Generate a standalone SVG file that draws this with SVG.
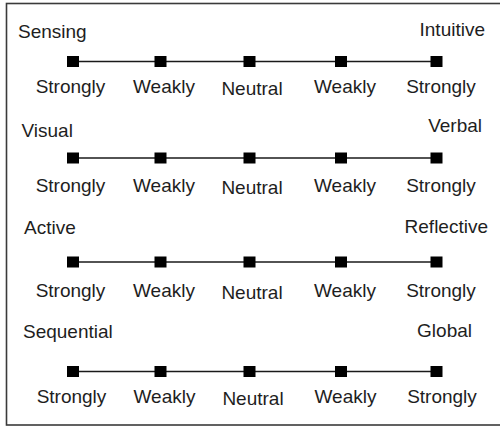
<svg xmlns="http://www.w3.org/2000/svg" width="500" height="428" viewBox="0 0 500 428">
<style>
.t{font-family:"Liberation Sans",Arial,sans-serif;font-size:19px;fill:#1e1e1e}
.m{text-anchor:middle}
.e{text-anchor:end}
.sq{fill:#000}
.ln{stroke:#1a1a1a;stroke-width:1.6;fill:none}
</style>
<defs>
<rect id="sq" x="-6" y="-5.5" width="12" height="11" class="sq"/>
</defs>
<rect x="6.5" y="3.5" width="500" height="421.5" fill="#fff" stroke="#3a3a3a" stroke-width="1.6"/>
<g id="connectors">
<line class="ln" x1="73" y1="61.5" x2="436.5" y2="61.5"/>
<line class="ln" x1="73" y1="158" x2="436.5" y2="158"/>
<line class="ln" x1="73" y1="262" x2="436.5" y2="262"/>
<line class="ln" x1="73" y1="371.5" x2="436.5" y2="371.5"/>
</g>
<g id="row1">
<text class="t" x="18" y="38">Sensing</text>
<text class="t e" x="485" y="36">Intuitive</text>
<g id="r1n1"><use href="#sq" x="73" y="61.5"/><text class="t m" x="70.5" y="93">Strongly</text></g>
<g id="r1n2"><use href="#sq" x="160.5" y="61.5"/><text class="t m" x="164" y="93">Weakly</text></g>
<g id="r1n3"><use href="#sq" x="249.5" y="61.5"/><text class="t m" x="252" y="95">Neutral</text></g>
<g id="r1n4"><use href="#sq" x="341" y="61.5"/><text class="t m" x="345" y="93">Weakly</text></g>
<g id="r1n5"><use href="#sq" x="436.5" y="61.5"/><text class="t m" x="441" y="93">Strongly</text></g>
</g>
<g id="row2">
<text class="t" x="21.5" y="137">Visual</text>
<text class="t e" x="482" y="132">Verbal</text>
<g id="r2n1"><use href="#sq" x="73" y="158"/><text class="t m" x="70.5" y="192">Strongly</text></g>
<g id="r2n2"><use href="#sq" x="160.5" y="158"/><text class="t m" x="164" y="192">Weakly</text></g>
<g id="r2n3"><use href="#sq" x="249.5" y="158"/><text class="t m" x="252" y="194">Neutral</text></g>
<g id="r2n4"><use href="#sq" x="341" y="158"/><text class="t m" x="345" y="192">Weakly</text></g>
<g id="r2n5"><use href="#sq" x="436.5" y="158"/><text class="t m" x="441" y="192">Strongly</text></g>
</g>
<g id="row3">
<text class="t" x="24" y="234">Active</text>
<text class="t e" x="488" y="233">Reflective</text>
<g id="r3n1"><use href="#sq" x="73" y="262"/><text class="t m" x="70.5" y="297">Strongly</text></g>
<g id="r3n2"><use href="#sq" x="160.5" y="262"/><text class="t m" x="164" y="297">Weakly</text></g>
<g id="r3n3"><use href="#sq" x="249.5" y="262"/><text class="t m" x="252" y="299">Neutral</text></g>
<g id="r3n4"><use href="#sq" x="341" y="262"/><text class="t m" x="345" y="297">Weakly</text></g>
<g id="r3n5"><use href="#sq" x="436.5" y="262"/><text class="t m" x="441" y="297">Strongly</text></g>
</g>
<g id="row4">
<text class="t" x="23" y="338">Sequential</text>
<text class="t e" x="472" y="337">Global</text>
<g id="r4n1"><use href="#sq" x="73" y="371.5"/><text class="t m" x="71.5" y="403">Strongly</text></g>
<g id="r4n2"><use href="#sq" x="160.5" y="371.5"/><text class="t m" x="164.5" y="403">Weakly</text></g>
<g id="r4n3"><use href="#sq" x="249.5" y="371.5"/><text class="t m" x="253" y="405">Neutral</text></g>
<g id="r4n4"><use href="#sq" x="341" y="371.5"/><text class="t m" x="345.5" y="403">Weakly</text></g>
<g id="r4n5"><use href="#sq" x="436.5" y="371.5"/><text class="t m" x="442" y="403">Strongly</text></g>
</g>
</svg>
